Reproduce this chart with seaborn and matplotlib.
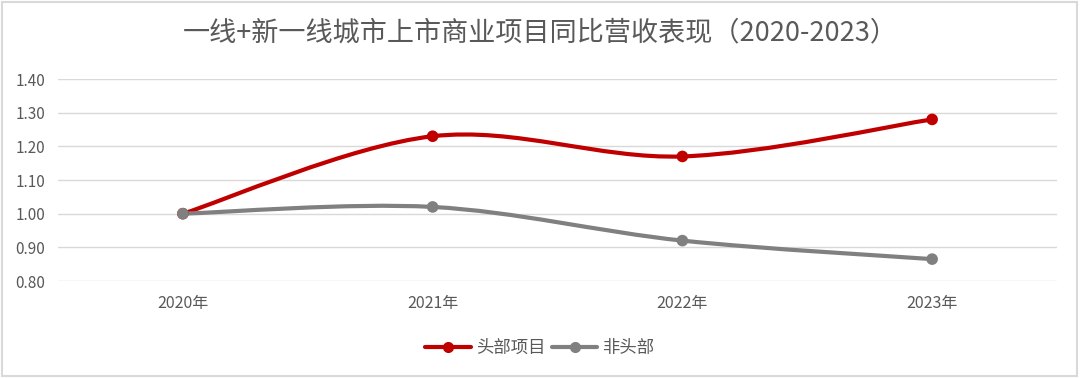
import numpy as np
import pandas as pd
import matplotlib
matplotlib.use("Agg")
import matplotlib.pyplot as plt
from matplotlib.path import Path
from matplotlib.patches import PathPatch, Rectangle
from matplotlib.lines import Line2D
import seaborn as sns

years = ['2020年', '2021年', '2022年', '2023年']
head = [1.00, 1.23, 1.17, 1.28]
non_head = [1.00, 1.02, 0.92, 0.865]
series_names = ['头部项目', '非头部']
colors = ['#C00000', '#808080']
title = '一线+新一线城市上市商业项目同比营收表现（2020-2023）'

df = pd.DataFrame({
    'year': years * 2,
    'value': head + non_head,
    'name': [series_names[0]] * 4 + [series_names[1]] * 4,
})
df['pos'] = df['year'].map({y: i for i, y in enumerate(years)})

sns.set_style('white')
plt.rcParams['font.family'] = ['Noto Sans CJK SC', 'DejaVu Sans']

fig = plt.figure(figsize=(10.8, 3.78), dpi=100)
ax = fig.add_axes([0.0537, 0.2566, 0.9250, 0.5344])


def smooth_path(xs, ys):
    # excel-style smoothed line: cubic bezier through the points
    pts = np.column_stack([xs, ys]).astype(float)
    ext = np.vstack([pts[0], pts, pts[-1]])
    verts = [pts[0]]
    codes = [Path.MOVETO]
    for i in range(len(pts) - 1):
        p0, p1, p2, p3 = ext[i], ext[i + 1], ext[i + 2], ext[i + 3]
        verts += [p1 + (p2 - p0) / 6, p2 - (p3 - p1) / 6, p2]
        codes += [Path.CURVE4] * 3
    return Path(verts, codes)


for name, c in zip(series_names, colors):
    sub = df[df['name'] == name]
    ax.add_patch(PathPatch(smooth_path(sub['pos'], sub['value']),
                           facecolor='none', edgecolor=c, lw=3,
                           capstyle='round', zorder=3))

sns.scatterplot(data=df, x='pos', y='value', hue='name', palette=colors,
                s=70, edgecolor='none', legend=False, ax=ax, zorder=4)

ax.set_xlim(-0.5, 3.5)
ax.set_ylim(0.8, 1.4)
ax.set_yticks(np.arange(0.8, 1.41, 0.1))
ax.set_yticklabels([f'{v:.2f}' for v in np.arange(0.8, 1.41, 0.1)])
ax.set_xticks(range(len(years)))
ax.set_xticklabels(years)
ax.grid(axis='y', color='#D9D9D9', lw=1)
ax.set_axisbelow(True)
for s in ax.spines.values():
    s.set_visible(False)
ax.tick_params(axis='y', length=0, labelsize=11, labelcolor='#595959', pad=9)
ax.tick_params(axis='x', length=0, labelsize=11.5, labelcolor='#595959', pad=10)
ax.set_xlabel('')
ax.set_ylabel('')

fig.text(0.5, 0.912, title, ha='center', va='center', fontsize=19.5,
         color='#595959')

handles = [Line2D([0], [0], color=c, lw=3, marker='o', markersize=7)
           for c in colors]
fig.legend(handles, series_names, loc='center', bbox_to_anchor=(0.5, 0.08),
           ncol=2, frameon=False, fontsize=12.5, labelcolor='#595959',
           handlelength=2.6, handletextpad=0.3, columnspacing=0.4)

fig.patches.append(Rectangle((0.002, 0.005), 0.995, 0.99, transform=fig.transFigure,
                             fill=False, edgecolor='#D9D9D9', lw=1.5))

fig.savefig('out.png', dpi=100)
